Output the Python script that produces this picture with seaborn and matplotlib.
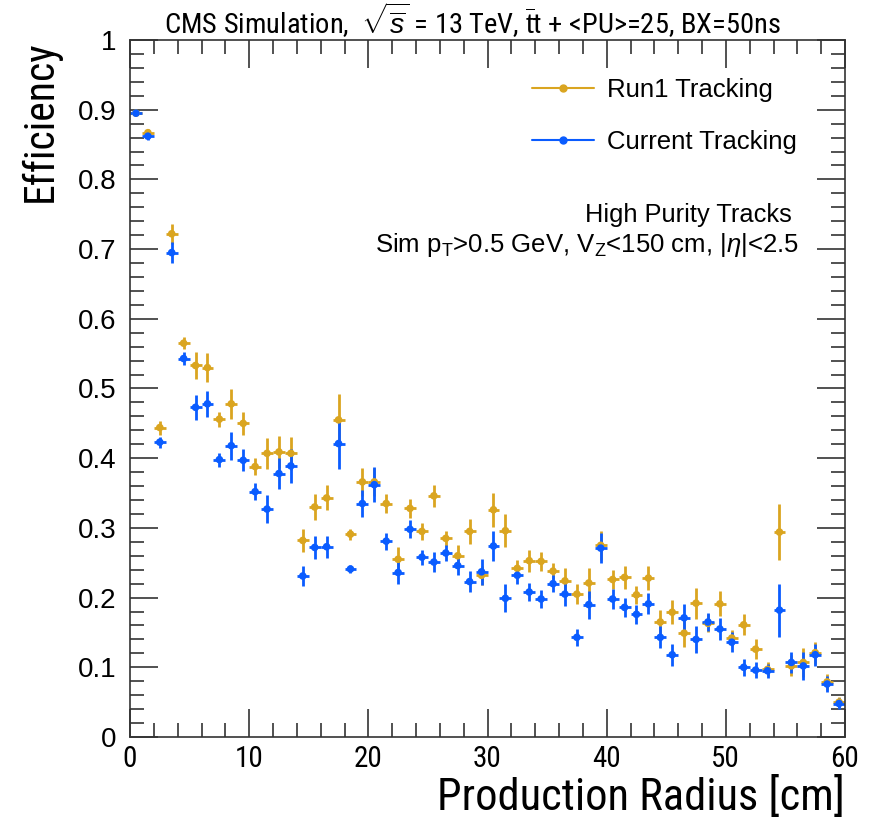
import numpy as np
import pandas as pd
import matplotlib
matplotlib.use('Agg')
import matplotlib.pyplot as plt
from matplotlib.lines import Line2D
from matplotlib.ticker import MultipleLocator
from matplotlib import font_manager
import seaborn as sns

# bin centres of the production radius histogram [cm]
radius = np.arange(0.5, 60.0, 1.0)

run1_eff = [0.895, 0.867, 0.444, 0.722, 0.565, 0.533, 0.530, 0.456, 0.478, 0.450,
            0.388, 0.407, 0.409, 0.407, 0.282, 0.330, 0.343, 0.455, 0.291, 0.366,
            0.366, 0.335, 0.255, 0.328, 0.295, 0.346, 0.285, 0.260, 0.295, 0.232,
            0.326, 0.296, 0.242, 0.253, 0.252, 0.238, 0.224, 0.205, 0.221, 0.275,
            0.226, 0.229, 0.204, 0.228, 0.165, 0.179, 0.149, 0.192, 0.163, 0.191,
            0.142, 0.161, 0.126, 0.097, 0.294, 0.102, 0.107, 0.121, 0.079, 0.050]
run1_err = [0.003, 0.006, 0.010, 0.014, 0.009, 0.020, 0.021, 0.011, 0.022, 0.016,
            0.012, 0.022, 0.023, 0.024, 0.016, 0.019, 0.018, 0.037, 0.008, 0.020,
            0.020, 0.013, 0.017, 0.014, 0.012, 0.016, 0.011, 0.016, 0.018, 0.014,
            0.024, 0.024, 0.012, 0.016, 0.014, 0.012, 0.018, 0.014, 0.022, 0.021,
            0.014, 0.016, 0.013, 0.017, 0.017, 0.017, 0.020, 0.022, 0.013, 0.018,
            0.012, 0.015, 0.014, 0.010, 0.040, 0.015, 0.021, 0.016, 0.011, 0.008]

curr_eff = [0.895, 0.862, 0.423, 0.695, 0.543, 0.473, 0.478, 0.398, 0.418, 0.397,
            0.352, 0.327, 0.378, 0.389, 0.231, 0.272, 0.273, 0.421, 0.241, 0.335,
            0.362, 0.281, 0.236, 0.298, 0.258, 0.251, 0.264, 0.246, 0.223, 0.237,
            0.274, 0.199, 0.232, 0.208, 0.198, 0.220, 0.205, 0.143, 0.190, 0.271,
            0.198, 0.186, 0.176, 0.191, 0.143, 0.118, 0.171, 0.140, 0.165, 0.155,
            0.136, 0.100, 0.096, 0.095, 0.182, 0.107, 0.102, 0.118, 0.076, 0.048]
curr_err = [0.003, 0.006, 0.008, 0.015, 0.009, 0.018, 0.019, 0.010, 0.020, 0.016,
            0.012, 0.020, 0.022, 0.024, 0.014, 0.017, 0.016, 0.037, 0.006, 0.019,
            0.025, 0.012, 0.017, 0.013, 0.011, 0.014, 0.011, 0.013, 0.015, 0.019,
            0.022, 0.020, 0.012, 0.013, 0.013, 0.012, 0.017, 0.012, 0.020, 0.022,
            0.014, 0.014, 0.014, 0.015, 0.016, 0.016, 0.020, 0.019, 0.013, 0.016,
            0.014, 0.012, 0.011, 0.010, 0.038, 0.015, 0.020, 0.016, 0.012, 0.008]

labels = ['Run1 Tracking', 'Current Tracking']
COLS = {'Run1 Tracking': '#DAA520', 'Current Tracking': '#0A5CFF'}

df = pd.concat([
    pd.DataFrame({'radius': radius, 'eff': run1_eff, 'err': run1_err, 'algo': labels[0]}),
    pd.DataFrame({'radius': radius, 'eff': curr_eff, 'err': curr_err, 'algo': labels[1]}),
])

sns.set_theme(style='ticks')
plt.rcParams['font.family'] = ['Liberation Sans', 'DejaVu Sans']
plt.rcParams['mathtext.fontset'] = 'custom'
plt.rcParams['mathtext.rm'] = 'Liberation Sans'
plt.rcParams['mathtext.it'] = 'Liberation Sans:italic'
for k in ['text.color', 'axes.labelcolor', 'xtick.color', 'ytick.color']:
    plt.rcParams[k] = 'black'

# condensed face for title / axis titles, if one is installed
installed = {f.name for f in font_manager.fontManager.ttflist}
NARROW = [f for f in ['Liberation Sans Narrow', 'DejaVu Sans Condensed', 'Roboto Condensed',
                      'Open Sans Condensed', 'Roboto', 'Liberation Sans'] if f in installed][:1] + ['DejaVu Sans']

fig = plt.figure(figsize=(8.74, 8.26), dpi=100)
ax = fig.add_axes([130/874, 1-737/826, 715/874, 697/826])

for lab in labels:
    d = df[df['algo'] == lab]
    ax.errorbar(d['radius'], d['eff'], xerr=0.5, yerr=d['err'], fmt='none',
                ecolor=COLS[lab], elinewidth=2, capsize=0, zorder=2)
sns.scatterplot(data=df, x='radius', y='eff', hue='algo', palette=COLS,
                s=30, linewidth=0, legend=False, ax=ax, zorder=3)

ax.set_xlim(0, 60)
ax.set_ylim(0, 1)
ax.xaxis.set_major_locator(MultipleLocator(10))
ax.xaxis.set_minor_locator(MultipleLocator(2))
ax.yaxis.set_major_locator(MultipleLocator(0.1))
ax.yaxis.set_minor_locator(MultipleLocator(0.02))
ax.yaxis.set_major_formatter(matplotlib.ticker.FuncFormatter(lambda v, p: f'{v:g}'))
ax.tick_params(which='both', direction='in', top=True, right=True, width=1.2, color='#333333')
ax.tick_params(which='major', length=20)
ax.tick_params(which='minor', length=10)
ax.tick_params(axis='y', labelsize=20, pad=10)
ax.tick_params(axis='x', labelsize=21, pad=6)
for t in ax.get_xticklabels():
    t.set_family(NARROW)
for s in ax.spines.values():
    s.set_linewidth(1.2)
    s.set_color('#333333')

ax.set_xlabel('Production Radius [cm]', fontsize=32, family=NARROW, loc='right', labelpad=2)
ax.set_ylabel('Efficiency', fontsize=30, family=NARROW, loc='top', labelpad=12)

fig.text(0.541, 0.976, r'CMS Simulation,  $\sqrt{\overline{s}}$ = 13 TeV, $\overline{\mathrm{t}}$t + <PU>=25, BX=50ns',
         ha='center', va='center', fontsize=20.5, family=NARROW)

handles = [Line2D([], [], color=COLS[l], marker='o', ms=5, lw=1.5) for l in labels]
ax.legend(handles, labels, loc='upper right', bbox_to_anchor=(0.965, 0.978), frameon=False,
          fontsize=18.5, handlelength=2.4, labelspacing=1.08, handletextpad=0.5)

ax.text(0.925, 0.749, 'High Purity Tracks', transform=ax.transAxes,
        ha='right', va='center', fontsize=18.3)
ax.text(0.935, 0.706, r'Sim p$_{\mathrm{T}}$>0.5 GeV, V$_{\mathrm{Z}}$<150 cm, |$\eta$|<2.5',
        transform=ax.transAxes, ha='right', va='center', fontsize=18.5)

plt.savefig('out.png', dpi=100)
